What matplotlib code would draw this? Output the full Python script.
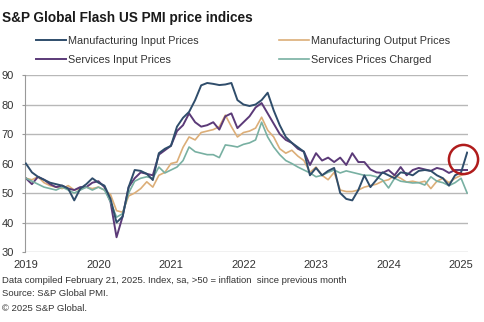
import numpy as np
import matplotlib
matplotlib.use('Agg')
import matplotlib.pyplot as plt

plt.rcParams['font.family'] = ['Liberation Sans', 'DejaVu Sans']

# Monthly index readings, Jan 2019 - Feb 2025
mfg_input = [60, 57, 55.5, 54.5, 53.5, 53, 52.5, 51.5, 47.5, 51.5, 53, 55,
             53.5, 52.5, 48, 40, 42, 52, 57.8, 57.5, 56.5, 54.4, 63.5, 65,
             66, 72.5, 75.5, 77.5, 81.5, 86.5, 87.3, 87, 86.6, 86.8, 87.3, 81.5,
             80, 79.5, 80, 81.5, 84, 78, 73, 69, 67, 65.5, 64, 56,
             58.5, 56, 57.5, 58.5, 50, 48, 47.5, 51, 56, 52, 54.5, 57,
             56, 55, 57, 56.7, 56, 57.5, 57.8, 57.5, 56, 55, 52.5, 56,
             57, 63.7]
mfg_output = [55, 54.5, 55.5, 53.5, 52.5, 52, 51.5, 52.5, 51, 51.5, 52, 51.5,
              52, 51, 49.5, 44, 43.5, 49, 50, 51.5, 53.8, 52, 56, 57,
              60, 60.5, 65.5, 69, 68, 70.5, 71, 71.5, 72.5, 76.4, 72.5, 69,
              70.5, 71, 72, 75.7, 71.3, 69, 65, 63.5, 64.5, 62.5, 61, 57,
              58.8, 56, 54.5, 57, 51, 50.5, 50.5, 51, 52, 52.5, 53, 54,
              54.5, 56, 55, 53.7, 54, 53.5, 54, 51.5, 54, 55, 53.5, 55,
              56, 56.8]
svc_input = [55, 53, 55.5, 54.5, 53, 52, 52.5, 51.5, 51, 52, 52, 53.5,
             54, 52, 47, 35, 42, 52, 55, 57, 56.5, 56, 63, 64.5,
             66, 71, 73, 77, 74, 72.5, 73, 74, 71.5, 76, 77, 72,
             74, 76, 79, 80.5, 77, 73.5, 70, 68, 67, 65, 64, 59.5,
             63.5, 61, 62, 60.5, 62, 59.5, 63.5, 60.5, 60.5, 58, 57, 56.8,
             57.8, 56, 58.8, 56, 57.8, 58.5, 58, 57.5, 58.5, 58, 56.8, 57.8,
             57.8, 57.8]
svc_charged = [55, 54, 53, 52, 51.5, 51, 52, 51, 50, 51, 52, 51,
               52, 51, 47, 41.8, 43, 50, 54, 55, 55.5, 55, 58.8, 56.8,
               57.8, 58.8, 61, 65.6, 64, 63.5, 63, 63, 62, 66.3, 66, 65.6,
               66.5, 67, 68, 74, 69, 65.6, 63, 61, 60, 58.8, 57.8, 56.8,
               55.5, 56, 57, 57.8, 56.8, 57.5, 57, 56.5, 56, 56, 55.5, 54.4,
               51.7, 55, 54, 53.7, 53.4, 53.5, 52.7, 55.5, 54, 53.5, 52.5, 53.5,
               55, 50]
years = ['2019', '2020', '2021', '2022', '2023', '2024', '2025']

months = np.arange(len(mfg_input))

fig = plt.figure(figsize=(4.85, 3.22), dpi=100)
ax = fig.add_axes([0.0515, 0.2174, 0.9135, 0.5496])

l1, = ax.plot(months, mfg_input, color='#2f4d6b', lw=1.4, label='Manufacturing Input Prices')
l3, = ax.plot(months, mfg_output, color='#dcae78', lw=1.2, label='Manufacturing Output Prices')
l2, = ax.plot(months, svc_input, color='#5b3a78', lw=1.4, label='Services Input Prices')
l4, = ax.plot(months, svc_charged, color='#78b0a2', lw=1.2, label='Services Prices Charged')
l1.set_zorder(3)

ax.set_xlim(-0.15, len(months) - 0.85)
ax.set_ylim(30, 90)
ax.set_yticks(range(30, 91, 10))
ax.set_xticks(np.arange(len(years)) * 12)
ax.set_xticklabels(years)
ax.grid(axis='y', color='#b8b8b8', lw=1)
ax.set_axisbelow(True)
for s in ['top', 'right', 'bottom']:
    ax.spines[s].set_visible(False)
ax.spines['left'].set_color('#999999')
ax.tick_params(axis='y', length=2, color='#999999', labelsize=8, pad=6, labelcolor='#333333')
ax.tick_params(axis='x', length=0, labelsize=8, pad=6, labelcolor='#333333')

# red circle highlighting the latest reading
ax.plot([72.3], [61.5], marker='o', ms=21, mfc='none', mec='#b01c1c', mew=1.8,
        clip_on=False, zorder=5)

fig.legend(handles=[l1, l2, l3, l4], loc='upper left', bbox_to_anchor=(0.065, 0.902),
           ncol=2, frameon=False, fontsize=7.8, handlelength=2.8, handletextpad=0.15,
           columnspacing=7.4, labelspacing=0.85, borderaxespad=0, labelcolor='#333333')

fig.text(0.004, 0.945, 'S&P Global Flash US PMI price indices', fontsize=9.8,
         fontweight='bold', va='center', ha='left', color='#1a1a1a')
fig.text(0.004, 0.130, 'Data compiled February 21, 2025. Index, sa, >50 = inflation  since previous month',
         fontsize=6.8, va='center', color='#333333')
fig.text(0.004, 0.087, 'Source: S&P Global PMI.', fontsize=6.8, va='center', color='#333333')
fig.text(0.004, 0.043, '\u00a9 2025 S&P Global.', fontsize=6.8, va='center', color='#333333')

fig.savefig('out.png', dpi=100)
